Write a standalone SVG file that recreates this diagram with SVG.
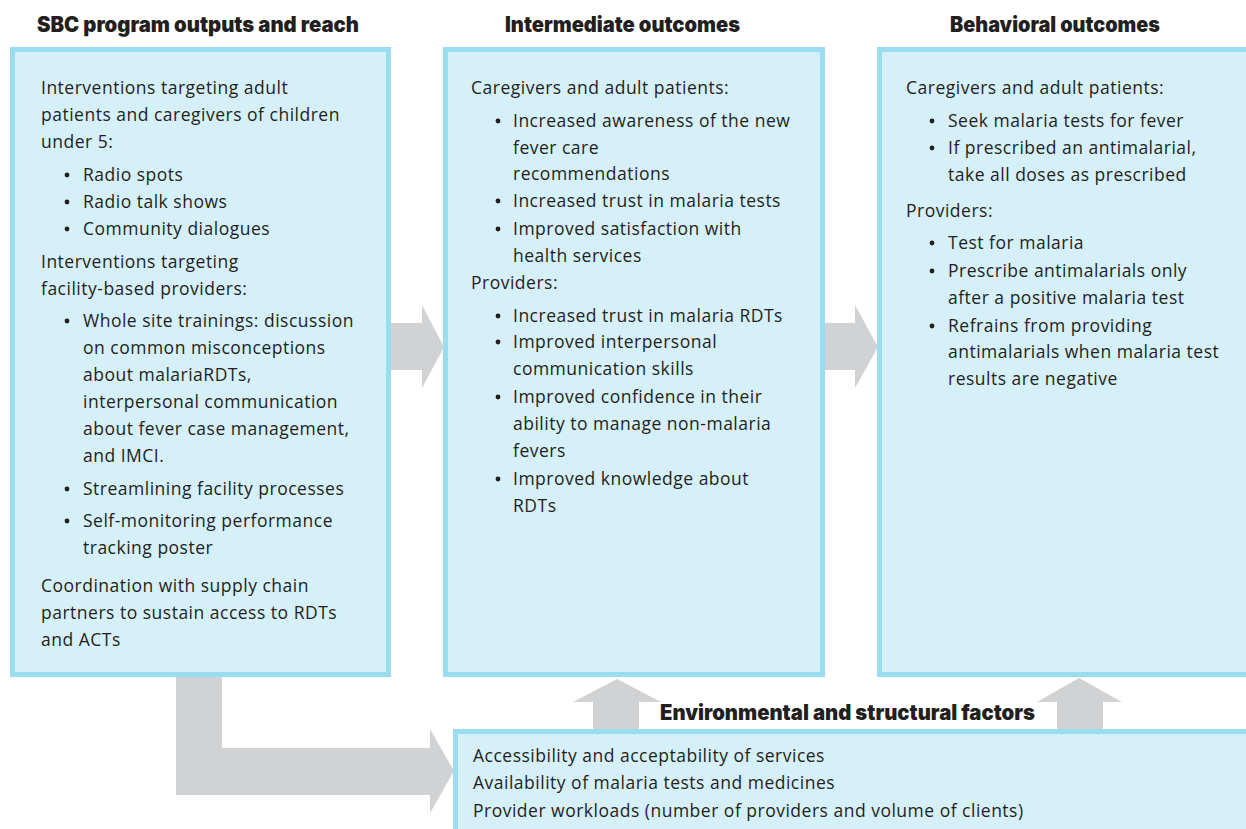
<svg xmlns="http://www.w3.org/2000/svg" width="1246" height="829" viewBox="0 0 1246 829">
  <defs>
    <style>
      .box { fill: #d5f0f9; stroke: #9adcf0; stroke-width: 5; }
      .arrow { fill: #d1d2d4; }
      .hd { font-family: Inter, Lato, "Liberation Sans", sans-serif; font-weight: 900; font-size: 21px; fill: #231f20; }
      .tx { font-family: "Open Sans", "Liberation Sans", sans-serif; font-size: 17.5px; letter-spacing: 0.5px; fill: #231f20; }
      .dot { fill: #231f20; }
    </style>
  </defs>

  <!-- connectors: wide block arrows, drawn beneath the boxes -->
  <g id="connectors">
    <polygon class="arrow" points="389,323 422,323 422,305 444,347 422,388 422,370 389,370"/>
    <polygon class="arrow" points="823,323 855,323 855,305 878,347 855,388 855,370 823,370"/>
    <polygon class="arrow" points="176,675 222,675 222,748 430,748 430,729 454,771 430,813 430,795 176,795"/>
    <polygon class="arrow" points="593,731 593,702 573,702 617,679 661,702 639,702 639,731"/>
    <polygon class="arrow" points="1057,731 1057,702 1037,702 1079,678 1122,702 1103,702 1103,731"/>
  </g>

  <!-- SBC program outputs and reach -->
  <g id="outputs">
    <text class="hd" x="37" y="32" textLength="322" lengthAdjust="spacingAndGlyphs">SBC program outputs and reach</text>
    <rect class="box" x="12.5" y="49.5" width="376" height="625"/>
    <text class="tx" x="41" y="94">Interventions targeting adult</text>
    <text class="tx" x="41" y="121">patients and caregivers of children</text>
    <text class="tx" x="41" y="148">under 5:</text>
    <circle class="dot" cx="67" cy="175" r="2.4"/>
    <text class="tx" x="83" y="181">Radio spots</text>
    <circle class="dot" cx="67" cy="202" r="2.4"/>
    <text class="tx" x="83" y="208">Radio talk shows</text>
    <circle class="dot" cx="67" cy="229" r="2.4"/>
    <text class="tx" x="83" y="235">Community dialogues</text>
    <text class="tx" x="41" y="268">Interventions targeting</text>
    <text class="tx" x="41" y="295">facility-based providers:</text>
    <circle class="dot" cx="67" cy="321" r="2.4"/>
    <text class="tx" x="83" y="327">Whole site trainings: discussion</text>
    <text class="tx" x="83" y="354">on common misconceptions</text>
    <text class="tx" x="83" y="381">about malariaRDTs,</text>
    <text class="tx" x="83" y="408">interpersonal communication</text>
    <text class="tx" x="83" y="435">about fever case management,</text>
    <text class="tx" x="83" y="462">and IMCI.</text>
    <circle class="dot" cx="67" cy="489" r="2.4"/>
    <text class="tx" x="83" y="495">Streamlining facility processes</text>
    <circle class="dot" cx="67" cy="521" r="2.4"/>
    <text class="tx" x="83" y="527">Self-monitoring performance</text>
    <text class="tx" x="83" y="554">tracking poster</text>
    <text class="tx" x="41" y="592">Coordination with supply chain</text>
    <text class="tx" x="41" y="619">partners to sustain access to RDTs</text>
    <text class="tx" x="41" y="646">and ACTs</text>
  </g>

  <!-- Intermediate outcomes -->
  <g id="intermediate">
    <text class="hd" x="505" y="32" textLength="235" lengthAdjust="spacingAndGlyphs">Intermediate outcomes</text>
    <rect class="box" x="445.5" y="49.5" width="377" height="625"/>
    <text class="tx" x="471" y="94">Caregivers and adult patients:</text>
    <circle class="dot" cx="498" cy="121" r="2.4"/>
    <text class="tx" x="513" y="127">Increased awareness of the new</text>
    <text class="tx" x="513" y="154">fever care</text>
    <text class="tx" x="513" y="180">recommendations</text>
    <circle class="dot" cx="498" cy="201" r="2.4"/>
    <text class="tx" x="513" y="207">Increased trust in malaria tests</text>
    <circle class="dot" cx="498" cy="229" r="2.4"/>
    <text class="tx" x="513" y="235">Improved satisfaction with</text>
    <text class="tx" x="513" y="262">health services</text>
    <text class="tx" x="471" y="289">Providers:</text>
    <circle class="dot" cx="498" cy="316" r="2.4"/>
    <text class="tx" x="513" y="322">Increased trust in malaria RDTs</text>
    <circle class="dot" cx="498" cy="342" r="2.4"/>
    <text class="tx" x="513" y="348">Improved interpersonal</text>
    <text class="tx" x="513" y="375">communication skills</text>
    <circle class="dot" cx="498" cy="397" r="2.4"/>
    <text class="tx" x="513" y="403">Improved confidence in their</text>
    <text class="tx" x="513" y="430">ability to manage non-malaria</text>
    <text class="tx" x="513" y="457">fevers</text>
    <circle class="dot" cx="498" cy="479" r="2.4"/>
    <text class="tx" x="513" y="485">Improved knowledge about</text>
    <text class="tx" x="513" y="512">RDTs</text>
  </g>

  <!-- Behavioral outcomes -->
  <g id="behavioral">
    <text class="hd" x="950" y="32" textLength="210" lengthAdjust="spacingAndGlyphs">Behavioral outcomes</text>
    <rect class="box" x="879.5" y="49.5" width="380" height="625"/>
    <text class="tx" x="906" y="94">Caregivers and adult patients:</text>
    <circle class="dot" cx="932" cy="121" r="2.4"/>
    <text class="tx" x="948" y="127">Seek malaria tests for fever</text>
    <circle class="dot" cx="932" cy="148" r="2.4"/>
    <text class="tx" x="948" y="154">If prescribed an antimalarial,</text>
    <text class="tx" x="948" y="181">take all doses as prescribed</text>
    <text class="tx" x="906" y="217">Providers:</text>
    <circle class="dot" cx="932" cy="243" r="2.4"/>
    <text class="tx" x="948" y="249">Test for malaria</text>
    <circle class="dot" cx="932" cy="271" r="2.4"/>
    <text class="tx" x="948" y="277">Prescribe antimalarials only</text>
    <text class="tx" x="948" y="304">after a positive malaria test</text>
    <circle class="dot" cx="932" cy="326" r="2.4"/>
    <text class="tx" x="948" y="332">Refrains from providing</text>
    <text class="tx" x="948" y="358">antimalarials when malaria test</text>
    <text class="tx" x="948" y="385">results are negative</text>
  </g>

  <!-- Environmental and structural factors -->
  <g id="environment">
    <text class="hd" x="660" y="720" textLength="375" lengthAdjust="spacingAndGlyphs">Environmental and structural factors</text>
    <rect class="box" x="455.5" y="731.5" width="800" height="110"/>
    <text class="tx" x="473" y="762">Accessibility and acceptability of services</text>
    <text class="tx" x="473" y="789">Availability of malaria tests and medicines</text>
    <text class="tx" x="473" y="817">Provider workloads (number of providers and volume of clients)</text>
  </g>
</svg>
